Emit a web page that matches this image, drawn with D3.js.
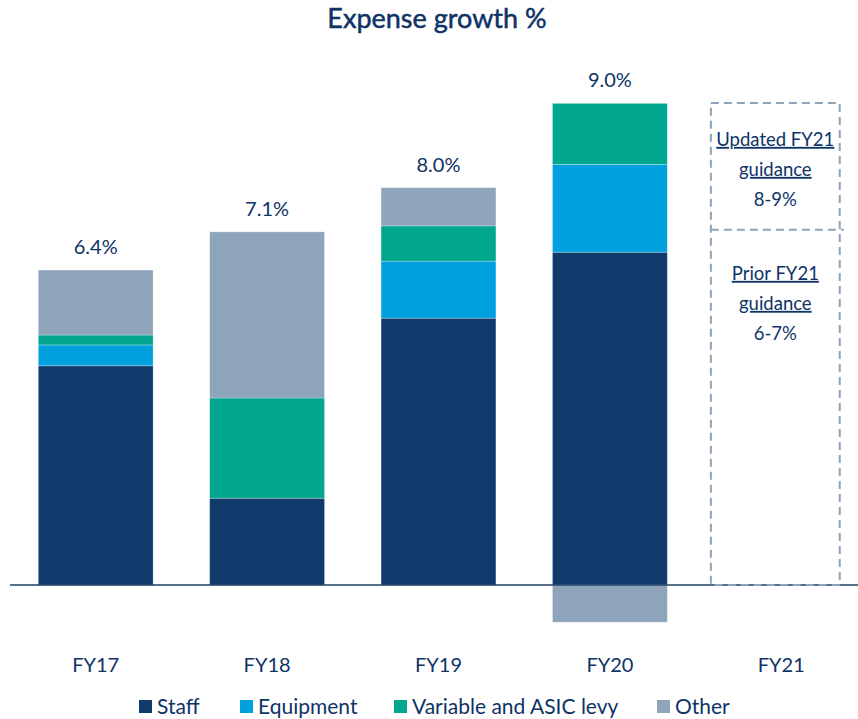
<!DOCTYPE html>
<html>
<head>
<meta charset="utf-8">
<script src="https://cdn.jsdelivr.net/npm/d3@7"></script>
<style>
  body { margin: 0; background: #fff; }
  svg { display: block; font-family: Lato, "Open Sans", sans-serif; }
</style>
</head>
<body>
<div id="chart"></div>
<script>
// data
var years = ["FY17", "FY18", "FY19", "FY20", "FY21"]
var seriesNames = ["Staff", "Equipment", "Variable and ASIC levy", "Other"]
var staff     = [4.42, 1.75, 5.38, 6.71, 0]
var equipment = [0.42, 0.00, 1.15, 1.77, 0]
var variable  = [0.20, 2.02, 0.71, 1.23, 0]
var other     = [1.31, 3.35, 0.77, -0.75, 0]
var totalLabels = ["6.4%", "7.1%", "8.0%", "9.0%", ""]
var colors = ["#0f3a6b", "#00a0df", "#00a78e", "#8ea4ba"]

// FY21 guidance boxes (bottom, top in % terms)
var guidanceBounds = [0, 7.16, 9.72]
var guidanceText = [
  {lines: ["Updated FY21", "guidance", "8-9%"], box: 1, offset: 43},
  {lines: ["Prior FY21", "guidance", "6-7%"], box: 0, offset: 50}
]

var width = 858, height = 719
var textColor = "#0e3366"

var rows = years.map(function(y, i) {
  return {year: y, "Staff": staff[i], "Equipment": equipment[i],
          "Variable and ASIC levy": variable[i], "Other": other[i]}
})

var svg = d3.select("#chart").append("svg")
  .attr("width", width)
  .attr("height", height)

var x = d3.scaleBand()
  .domain(years)
  .range([10, 867])
  .paddingInner(0.33)
  .paddingOuter(0.165)

var y = d3.scaleLinear()
  .domain([0, 9])
  .range([585, 138.6])

var stacked = d3.stack()
  .keys(seriesNames)
  .offset(d3.stackOffsetDiverging)(rows)

// title
svg.append("text")
  .attr("x", 437)
  .attr("y", 28)
  .attr("text-anchor", "middle")
  .attr("fill", textColor)
  .attr("font-size", 27)
  .attr("stroke", textColor)
  .attr("stroke-width", 0.5)
  .text("Expense growth %")

// bars
svg.append("g")
  .selectAll("g")
  .data(stacked)
  .join("g")
    .attr("fill", function(d, i) { return colors[i] })
  .selectAll("rect")
  .data(function(d) { return d.filter(function(s) { return s.data.year != "FY21" }) })
  .join("rect")
    .attr("x", function(d) { return x(d.data.year) })
    .attr("width", x.bandwidth())
    .attr("y", function(d) { return y(d[1]) })
    .attr("height", function(d) { return Math.max(0, y(d[0]) - y(d[1])) })
    .attr("stroke", "#fff")
    .attr("stroke-opacity", 0.35)
    .attr("stroke-width", 0.8)

// totals above bars
svg.append("g")
  .selectAll("text")
  .data(rows.filter(function(d, i) { return totalLabels[i] != "" }))
  .join("text")
    .attr("x", function(d) { return x(d.year) + x.bandwidth() / 2 })
    .attr("y", function(d) {
      var top = d3.sum(seriesNames, function(k) { return Math.max(0, d[k]) })
      return y(top) - 16
    })
    .attr("text-anchor", "middle")
    .attr("fill", textColor)
    .attr("font-size", 20)
    .text(function(d, i) { return totalLabels[i] })

// baseline
svg.append("line")
  .attr("x1", 10)
  .attr("x2", width)
  .attr("y1", y(0))
  .attr("y2", y(0))
  .attr("stroke", "#1d3f66")
  .attr("stroke-width", 1.5)

// FY21 guidance boxes
var bx = x("FY21") - 13
var bw = x.bandwidth() + 14
var guide = svg.append("g")
  .attr("fill", "none")
  .attr("stroke", "#8ea4ba")
  .attr("stroke-width", 2)
  .attr("stroke-dasharray", "8,5")

guide.append("rect")
  .attr("x", bx)
  .attr("y", y(guidanceBounds[2]))
  .attr("width", bw)
  .attr("height", y(guidanceBounds[0]) - y(guidanceBounds[2]))

guide.append("line")
  .attr("x1", bx)
  .attr("x2", bx + bw + 4)
  .attr("y1", y(guidanceBounds[1]))
  .attr("y2", y(guidanceBounds[1]))

guidanceText.forEach(function(g) {
  var top = y(guidanceBounds[g.box + 1])
  var cx = bx + bw / 2
  g.lines.forEach(function(line, i) {
    var t = svg.append("text")
      .attr("x", cx)
      .attr("y", top + g.offset + i * 30)
      .attr("text-anchor", "middle")
      .attr("fill", textColor)
      .attr("font-size", 18.5)
      .text(line)
    if (i < 2) t.attr("text-decoration", "underline")
  })
})

// category labels
svg.append("g")
  .selectAll("text")
  .data(years)
  .join("text")
    .attr("x", function(d) { return x(d) + x.bandwidth() / 2 })
    .attr("y", 672)
    .attr("text-anchor", "middle")
    .attr("fill", textColor)
    .attr("font-size", 20)
    .text(function(d) { return d })

// legend
var legendX = [139, 240, 394, 657]
var legend = svg.append("g")
  .selectAll("g")
  .data(seriesNames)
  .join("g")
    .attr("transform", function(d, i) { return "translate(" + legendX[i] + ",700)" })

legend.append("rect")
  .attr("width", 13)
  .attr("height", 13)
  .attr("fill", function(d, i) { return colors[i] })

legend.append("text")
  .attr("x", 18)
  .attr("y", 14)
  .attr("fill", textColor)
  .attr("font-size", 21)
  .text(function(d) { return d })
</script>
</body>
</html>
